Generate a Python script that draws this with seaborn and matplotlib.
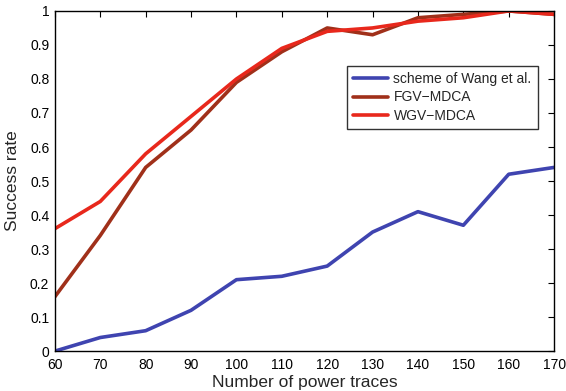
import pandas as pd
import seaborn as sns
import matplotlib.pyplot as plt

traces = [60, 70, 80, 90, 100, 110, 120, 130, 140, 150, 160, 170]
wang = [0.0, 0.04, 0.06, 0.12, 0.21, 0.22, 0.25, 0.35, 0.41, 0.37, 0.52, 0.54]
fgv = [0.16, 0.34, 0.54, 0.65, 0.79, 0.88, 0.95, 0.93, 0.98, 0.99, 1.0, 0.99]
wgv = [0.36, 0.44, 0.58, 0.69, 0.80, 0.89, 0.94, 0.95, 0.97, 0.98, 1.0, 0.99]
names = ["scheme of Wang et al.", "FGV\u2212MDCA", "WGV\u2212MDCA"]
colors = ["#3f44b0", "#a0301a", "#e8281c"]

df = pd.DataFrame({"traces": traces * 3,
                   "rate": wang + fgv + wgv,
                   "scheme": [names[0]] * 12 + [names[1]] * 12 + [names[2]] * 12})

sns.set_style("white")
plt.rcParams["font.family"] = ["Liberation Sans", "DejaVu Sans"]

fig = plt.figure(figsize=(5.66, 3.91), dpi=100)
ax = fig.add_axes([0.097, 0.102, 0.882, 0.870])
sns.lineplot(data=df, x="traces", y="rate", hue="scheme", palette=colors,
             linewidth=2.6, ax=ax)

ax.set_xlim(60, 170)
ax.set_ylim(0, 1)
ax.set_xticks(traces)
ax.set_yticks([i / 10 for i in range(11)])
ax.set_yticklabels(["0"] + [f"{i / 10:.1f}" for i in range(1, 10)] + ["1"])
ax.tick_params(direction="in", length=4, width=0.8, top=True, right=True,
               labelsize=10, colors="black")
ax.tick_params(axis="x", pad=5)
ax.tick_params(axis="y", pad=4)
for s in ax.spines.values():
    s.set_color("black")
    s.set_linewidth(1.0)
ax.set_xlabel("Number of power traces", fontsize=12.5, labelpad=2)
ax.set_ylabel("Success rate", fontsize=12.5, labelpad=7)

leg = ax.legend(loc="upper left", bbox_to_anchor=(0.585, 0.838), fontsize=10,
                frameon=True, fancybox=False, edgecolor="black",
                handlelength=2.5, handletextpad=0.4, borderpad=0.45,
                labelspacing=0.3, borderaxespad=0)
leg.get_frame().set_linewidth(1.0)

plt.savefig("out.png", dpi=100)
